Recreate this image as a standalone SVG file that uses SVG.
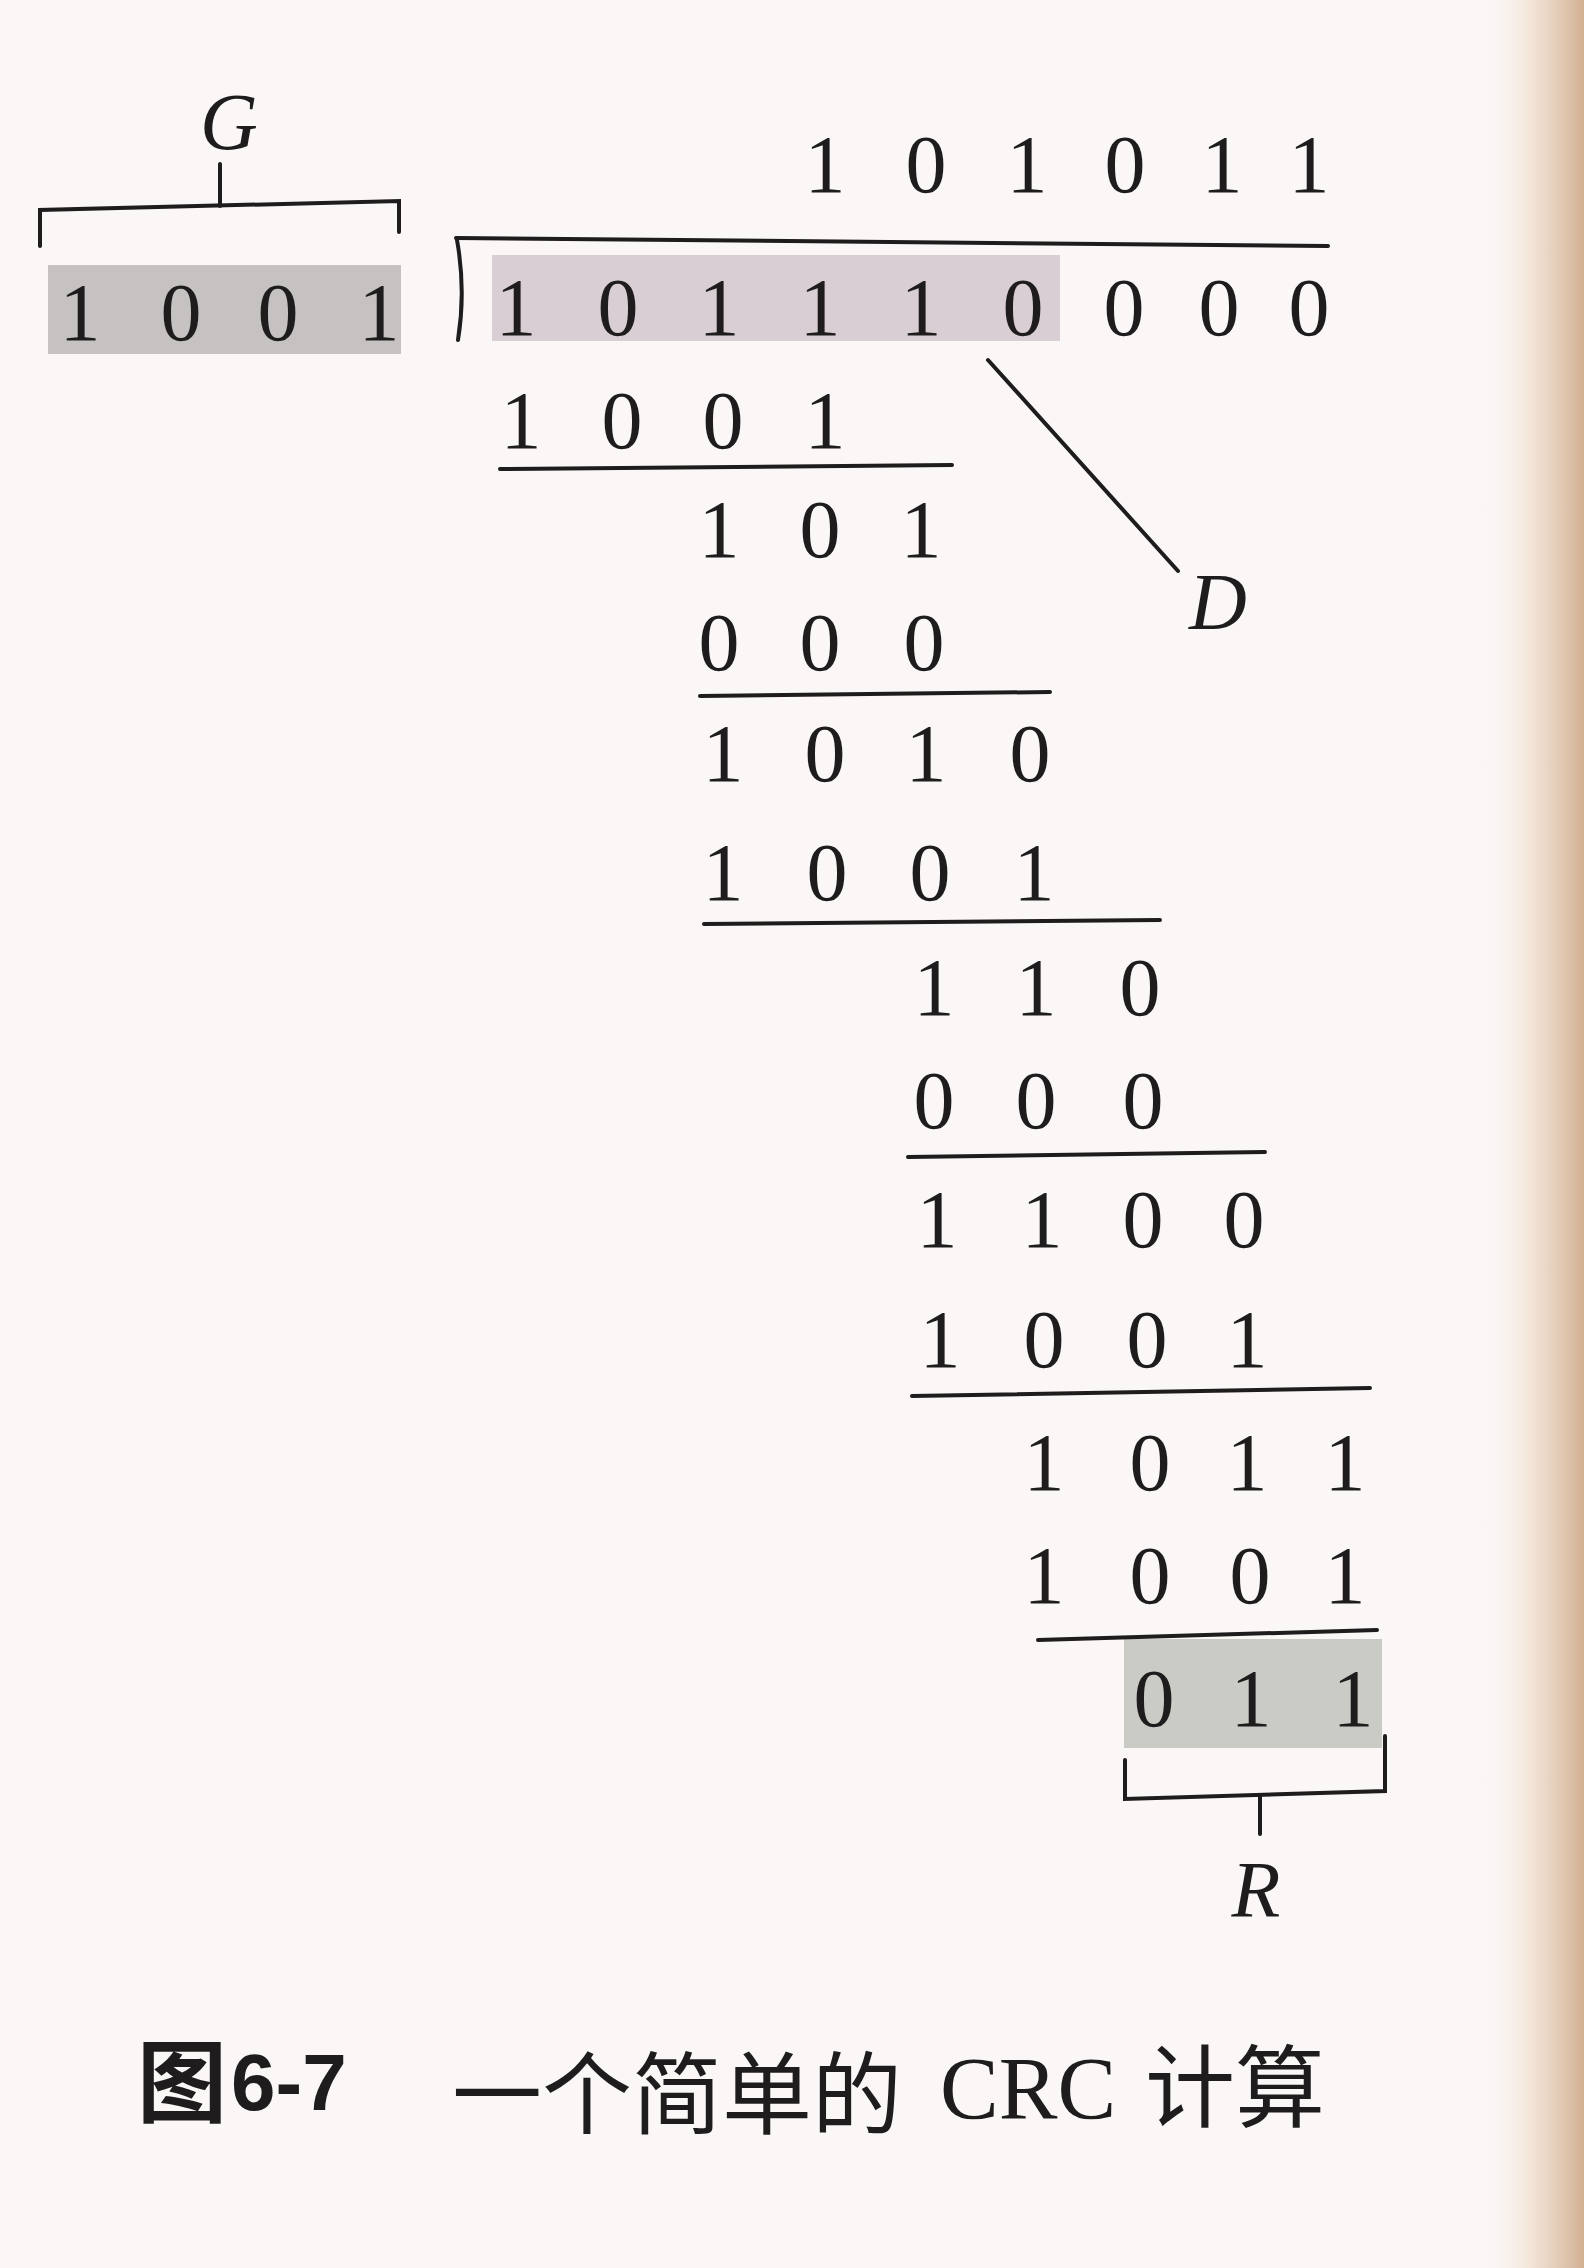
<svg xmlns="http://www.w3.org/2000/svg" width="1584" height="2268" viewBox="0 0 1584 2268">
<defs>
<linearGradient id="edge" x1="0" y1="0" x2="1" y2="0">
<stop offset="0" stop-color="#faf7f6" stop-opacity="0"/>
<stop offset="0.45" stop-color="#f3e4d6" stop-opacity="0.8"/>
<stop offset="1" stop-color="#d2b092"/>
</linearGradient>
<style>
.d{font-family:"Liberation Serif","DejaVu Serif",serif;font-size:82px;fill:#1e1c1c;text-anchor:middle}
.v{font-family:"Liberation Serif","DejaVu Serif",serif;font-style:italic;font-size:80px;fill:#1e1c1c;text-anchor:middle}
.ln{stroke:#1e1c1c;stroke-width:4;fill:none;stroke-linecap:round}
.cap{font-family:"Noto Sans CJK SC",sans-serif;font-size:90px;fill:#1e1c1c}
</style>
</defs>
<rect x="0" y="0" width="1584" height="2268" fill="#faf7f6"/>
<rect x="1480" y="0" width="104" height="2268" fill="url(#edge)"/>

<g id="divisor">
<rect x="48" y="265" width="353" height="89" fill="#c6c2c1"/>
<text class="d" x="80 181 278 379" y="340">1001</text>
</g>
<g id="label-G">
<text class="v" x="229" y="149">G</text>
</g>
<g id="quotient">
<text class="d" x="825 926 1027 1125 1222 1309" y="192">101011</text>
</g>
<g id="dividend">
<rect x="492" y="255" width="568" height="86" fill="#d9ced4"/>
<text class="d" x="516 618 719 820 921 1023 1124 1219 1309" y="335">101110000</text>
</g>
<g id="label-D">
<text class="v" x="1218" y="629">D</text>
</g>
<g id="step1">
<text class="d" x="521 622 723 825" y="448">1001</text>
<text class="d" x="719 820 921" y="557">101</text>
</g>
<g id="step2">
<text class="d" x="719 820 924" y="670">000</text>
<text class="d" x="723 825 926 1030" y="781">1010</text>
</g>
<g id="step3">
<text class="d" x="723 827 930 1034" y="900">1001</text>
<text class="d" x="934 1036 1140" y="1015">110</text>
</g>
<g id="step4">
<text class="d" x="934 1036 1143" y="1128">000</text>
<text class="d" x="937 1042 1143 1244" y="1247">1100</text>
</g>
<g id="step5">
<text class="d" x="940 1044 1147 1247" y="1367">1001</text>
<text class="d" x="1044 1150 1247 1345" y="1490">1011</text>
</g>
<g id="step6">
<text class="d" x="1044 1150 1250 1345" y="1603">1001</text>
</g>
<g id="remainder">
<rect x="1124" y="1639" width="258" height="109" fill="#cbcbc6"/>
<text class="d" x="1154 1251 1353" y="1726">011</text>
</g>
<g id="label-R">
<text class="v" x="1256" y="1917">R</text>
</g>

<g id="connectors">
<path class="ln" d="M40 246 L40 210 L399 201 L399 232"/>
<path class="ln" d="M220 164 L220 206"/>
<path class="ln" d="M456 238 L1328 246"/>
<path class="ln" d="M457 240 Q466 290 458 340"/>
<path class="ln" d="M500 469 L952 465"/>
<path class="ln" d="M700 696 L1050 692"/>
<path class="ln" d="M704 924 L1160 920"/>
<path class="ln" d="M908 1157 L1265 1152"/>
<path class="ln" d="M912 1396 L1370 1388"/>
<path class="ln" d="M1038 1640 L1377 1630"/>
<path class="ln" d="M1125 1760 L1125 1799 L1385 1791 L1385 1736"/>
<path class="ln" d="M1260 1796 L1260 1834"/>
<path class="ln" d="M988 360 L1178 571"/>
</g>

<g id="caption">
<text class="cap" x="137" y="2115" font-weight="bold" font-size="84">图</text>
<text x="231" y="2110" font-family="Liberation Sans,sans-serif" font-weight="bold" font-size="80" fill="#1e1c1c">6-7</text>
<text class="cap" x="452" y="2127">一个简单的</text>
<text x="940" y="2118" font-family="Liberation Serif,serif" font-size="88" fill="#1e1c1c">CRC</text>
<text class="cap" x="1145" y="2120" font-size="86">计算</text>
</g>
</svg>
